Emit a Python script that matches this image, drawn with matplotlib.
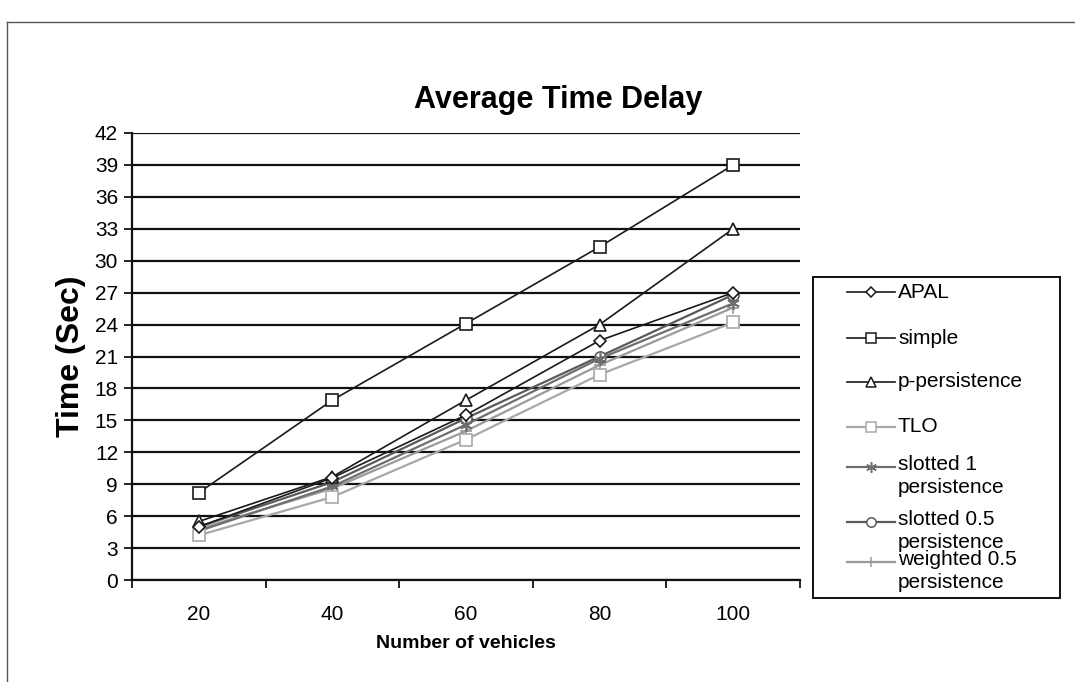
import matplotlib
matplotlib.use("Agg")
import matplotlib.pyplot as plt
from matplotlib.lines import Line2D
from matplotlib.patches import Rectangle

plt.rcParams['font.family'] = ['Liberation Sans', 'DejaVu Sans']

# Number of vehicles (categories) and average delay per scheme, seconds
vehicles = ["20", "40", "60", "80", "100"]
apal = [5.0, 9.6, 15.5, 22.5, 27.0]
simple = [8.2, 16.9, 24.1, 31.3, 39.0]
p_persistence = [5.5, 9.7, 16.9, 24.0, 33.0]
tlo = [4.2, 7.8, 13.2, 19.3, 24.2]
slotted_1 = [4.6, 8.8, 14.6, 20.8, 26.0]
slotted_05 = [5.0, 9.2, 15.2, 21.0, 26.8]
weighted_05 = [4.8, 8.6, 14.0, 20.2, 25.6]

series_names = ["APAL", "simple", "p-persistence", "TLO",
                "slotted 1\npersistence", "slotted 0.5\npersistence",
                "weighted 0.5\npersistence"]
y_ticks = list(range(0, 43, 3))

styles = [
    dict(color="#1a1a1a", marker="D", ms=6, mfc="white", mec="#1a1a1a", lw=1.2),
    dict(color="#1a1a1a", marker="s", ms=8, mfc="white", mec="#1a1a1a", lw=1.2),
    dict(color="#1a1a1a", marker="^", ms=8, mfc="white", mec="#1a1a1a", lw=1.2),
    dict(color="#a8a8a8", marker="s", ms=9, mfc="white", mec="#a8a8a8", lw=1.6),
    dict(color="#6e6e6e", marker=(6, 2, 0), ms=9, mfc="#6e6e6e", mec="#6e6e6e", lw=1.6),
    dict(color="#5a5a5a", marker="o", ms=8, mfc="white", mec="#5a5a5a", lw=1.6),
    dict(color="#9a9a9a", marker="+", ms=8, mfc="#9a9a9a", mec="#9a9a9a", lw=1.6),
]

W, H = 1075, 682
fig = plt.figure(figsize=(W / 100, H / 100), dpi=100)
fig.patch.set_facecolor("white")

# outer chart frame
fig.add_artist(Line2D([7 / W, 7 / W], [0, 1 - 22 / H], color="#555555", lw=1.0))
fig.add_artist(Line2D([7 / W, 1], [1 - 22 / H, 1 - 22 / H], color="#555555", lw=1.0))

ax = fig.add_axes([132 / W, 1 - 580 / H, (800 - 132) / W, (580 - 133) / H])
x = list(range(len(vehicles)))
all_series = [apal, simple, p_persistence, tlo, slotted_1, slotted_05, weighted_05]
for vals, st in zip(all_series[::-1], styles[::-1]):
    ax.plot(x, vals, markeredgewidth=1.2, **st)

ax.set_xlim(-0.5, len(vehicles) - 0.5)
ax.set_ylim(0, 42)
ax.set_yticks(y_ticks)
ax.set_yticklabels([str(v) for v in y_ticks], fontsize=15)
ax.yaxis.grid(True, color="#111111", lw=1.6)
ax.set_axisbelow(True)
ax.set_xticks(x)
ax.set_xticklabels(vehicles, fontsize=15)
ax.set_xticks([i + 0.5 for i in range(-1, len(vehicles))], minor=True)
ax.tick_params(axis="x", which="major", length=0, pad=18)
ax.tick_params(axis="x", which="minor", length=6, direction="out", width=1.2)
ax.tick_params(axis="y", length=6, direction="out", width=1.2, pad=4)
for side in ("top", "right"):
    ax.spines[side].set_visible(False)
for side in ("left", "bottom"):
    ax.spines[side].set_linewidth(1.6)
    ax.spines[side].set_color("#111111")

ax.set_xlabel("Number of vehicles", fontsize=14, fontweight="bold", labelpad=8)
ax.set_ylabel("Time (Sec)", fontsize=23, fontweight="bold", labelpad=6)
fig.text(558 / W, 1 - 100 / H, "Average Time Delay", fontsize=22,
         fontweight="bold", ha="center", va="center")

# legend box
lx0, ly0, lx1, ly1 = 813, 277, 1060, 598
fig.add_artist(Rectangle((lx0 / W, 1 - ly1 / H), (lx1 - lx0) / W, (ly1 - ly0) / H,
                         fill=False, ec="#111111", lw=1.4, transform=fig.transFigure))
entry_y = [292, 338, 382, 427, 467, 522, 562]
for name, st, yy in zip(series_names, styles, entry_y):
    yf = 1 - yy / H
    fig.add_artist(Line2D([847 / W, 895 / W], [yf, yf], color=st["color"], lw=st["lw"]))
    fig.add_artist(Line2D([871 / W], [yf], marker=st["marker"], ms=st["ms"] * 0.85,
                          mfc=st["mfc"], mec=st["mec"], markeredgewidth=1.1, lw=0))
    two_line = "\n" in name
    fig.text(898 / W, yf + (12 / H if two_line else 0), name, fontsize=15, ha="left",
             va="top" if two_line else "center", linespacing=1.25,
             transform=fig.transFigure)

fig.savefig("out.png", dpi=100)
